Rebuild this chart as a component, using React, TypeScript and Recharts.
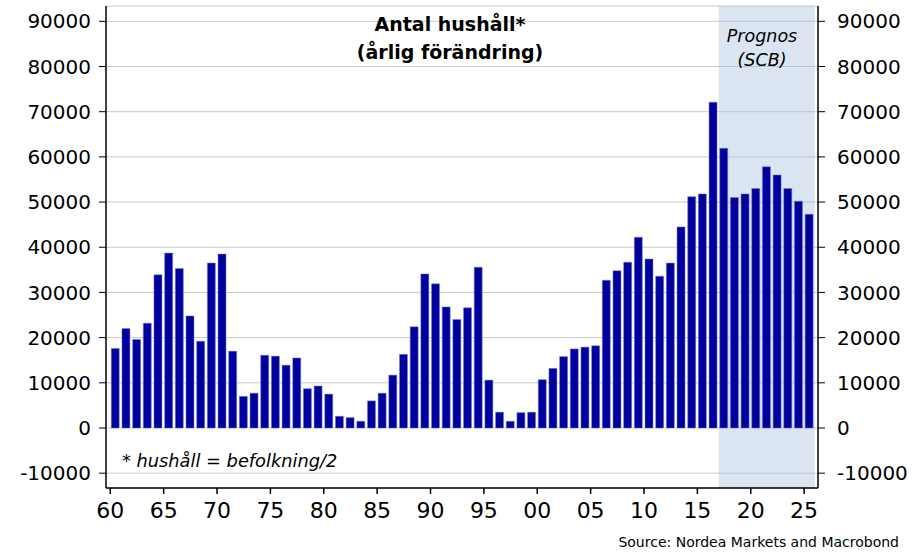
import React from "react";
import {
  ComposedChart,
  Bar,
  XAxis,
  YAxis,
  CartesianGrid,
  ReferenceArea,
} from "recharts";

const years = [
  1960, 1961, 1962, 1963, 1964, 1965, 1966, 1967, 1968, 1969,
  1970, 1971, 1972, 1973, 1974, 1975, 1976, 1977, 1978, 1979,
  1980, 1981, 1982, 1983, 1984, 1985, 1986, 1987, 1988, 1989,
  1990, 1991, 1992, 1993, 1994, 1995, 1996, 1997, 1998, 1999,
  2000, 2001, 2002, 2003, 2004, 2005, 2006, 2007, 2008, 2009,
  2010, 2011, 2012, 2013, 2014, 2015, 2016, 2017, 2018, 2019,
  2020, 2021, 2022, 2023, 2024, 2025,
];

const households = [
  17600, 22000, 19600, 23200, 33900, 38700, 35300, 24800, 19200, 36500,
  38500, 17000, 7000, 7700, 16100, 15900, 13900, 15500, 8700, 9300,
  7500, 2600, 2300, 1500, 6000, 7700, 11700, 16300, 22400, 34100,
  31900, 26800, 24000, 26600, 35600, 10600, 3500, 1500, 3400, 3500,
  10700, 13200, 15800, 17500, 17900, 18200, 32700, 34800, 36700, 42200,
  37400, 33600, 36500, 44500, 51200, 51800, 72100, 61900, 51000, 51800,
  53000, 57800, 56000, 53000, 50200, 47300,
];

const xTicks = [1960, 1965, 1970, 1975, 1980, 1985, 1990, 1995, 2000, 2005, 2010, 2015, 2020, 2025];
const yTicks = [-10000, 0, 10000, 20000, 30000, 40000, 50000, 60000, 70000, 80000, 90000];

const forecastStart = 2017;
const forecastEnd = 2026;

const data = years.map((y, i) => ({ x: y + 0.5, v: households[i] }));

const yDomain: [number, number] = [-13280, 93390];
const xDomain: [number, number] = [1959.6, 2026.3];

const axisFont = "DejaVu Sans";

export default function App() {
  return (
    <div style={{ position: "absolute", left: 0, top: 0, width: 922, height: 552, background: "#fff" }}>
      <ComposedChart
        width={922}
        height={552}
        data={data}
        margin={{ top: 6, right: 0, bottom: 0, left: 0 }}
      >
        <ReferenceArea
          yAxisId="left"
          x1={forecastStart}
          x2={forecastEnd}
          y1={yDomain[0]}
          y2={yDomain[1]}
          fill="#a5bedc"
          fillOpacity={0.4}
          stroke="none"
          ifOverflow="visible"
        />
        <CartesianGrid yAxisId="left" vertical={false} stroke="#c8c8c8" strokeWidth={1} />
        <XAxis
          type="number"
          dataKey="x"
          domain={xDomain}
          allowDataOverflow
          ticks={xTicks}
          interval={0}
          tickFormatter={(v: number) => String(v % 100).padStart(2, "0")}
          tickSize={6}
          tickMargin={8}
          height={64}
          axisLine={{ stroke: "#000", strokeWidth: 1.5 }}
          tickLine={{ stroke: "#000", strokeWidth: 1.5 }}
          tick={{ fill: "#000", fontSize: 22, fontFamily: axisFont }}
        />
        <YAxis
          yAxisId="left"
          orientation="left"
          domain={yDomain}
          allowDataOverflow
          ticks={yTicks}
          interval={0}
          width={106}
          tickSize={7}
          tickMargin={8}
          axisLine={{ stroke: "#000", strokeWidth: 1.5 }}
          tickLine={{ stroke: "#000", strokeWidth: 1 }}
          tick={{ fill: "#000", fontSize: 20, fontFamily: axisFont }}
        />
        <YAxis
          yAxisId="right"
          orientation="right"
          domain={yDomain}
          allowDataOverflow
          ticks={yTicks}
          interval={0}
          width={104}
          tickSize={7}
          tickMargin={12}
          axisLine={{ stroke: "#000", strokeWidth: 1.5 }}
          tickLine={{ stroke: "#000", strokeWidth: 1 }}
          tick={{ fill: "#000", fontSize: 20, fontFamily: axisFont }}
        />
        <Bar
          yAxisId="left"
          dataKey="v"
          fill="#00009c"
          stroke="#7c7cc8"
          strokeWidth={0.5}
          barSize={8}
          isAnimationActive={false}
        />
      </ComposedChart>
      <div
        style={{
          position: "absolute",
          left: 300,
          width: 300,
          top: 10,
          textAlign: "center",
          fontFamily: "DejaVu Sans",
          fontWeight: "bold",
          fontSize: 19,
          lineHeight: "28px",
          color: "#000",
        }}
      >
        Antal hushåll*
        <br />
        (årlig förändring)
      </div>
      <div
        style={{
          position: "absolute",
          left: 712,
          width: 100,
          top: 24,
          textAlign: "center",
          fontFamily: "DejaVu Sans",
          fontStyle: "italic",
          fontSize: 17.5,
          lineHeight: "24px",
          color: "#000",
        }}
      >
        Prognos
        <br />
        (SCB)
      </div>
      <div
        style={{
          position: "absolute",
          left: 122,
          top: 449,
          fontFamily: "DejaVu Sans",
          fontStyle: "italic",
          fontSize: 17.8,
          lineHeight: "24px",
          color: "#000",
          whiteSpace: "nowrap",
        }}
      >
        * hushåll = befolkning/2
      </div>
      <div
        style={{
          position: "absolute",
          right: 23,
          top: 534,
          fontFamily: "DejaVu Sans",
          fontSize: 14,
          lineHeight: "16px",
          color: "#000",
          whiteSpace: "nowrap",
        }}
      >
        Source: Nordea Markets and Macrobond
      </div>
    </div>
  );
}
